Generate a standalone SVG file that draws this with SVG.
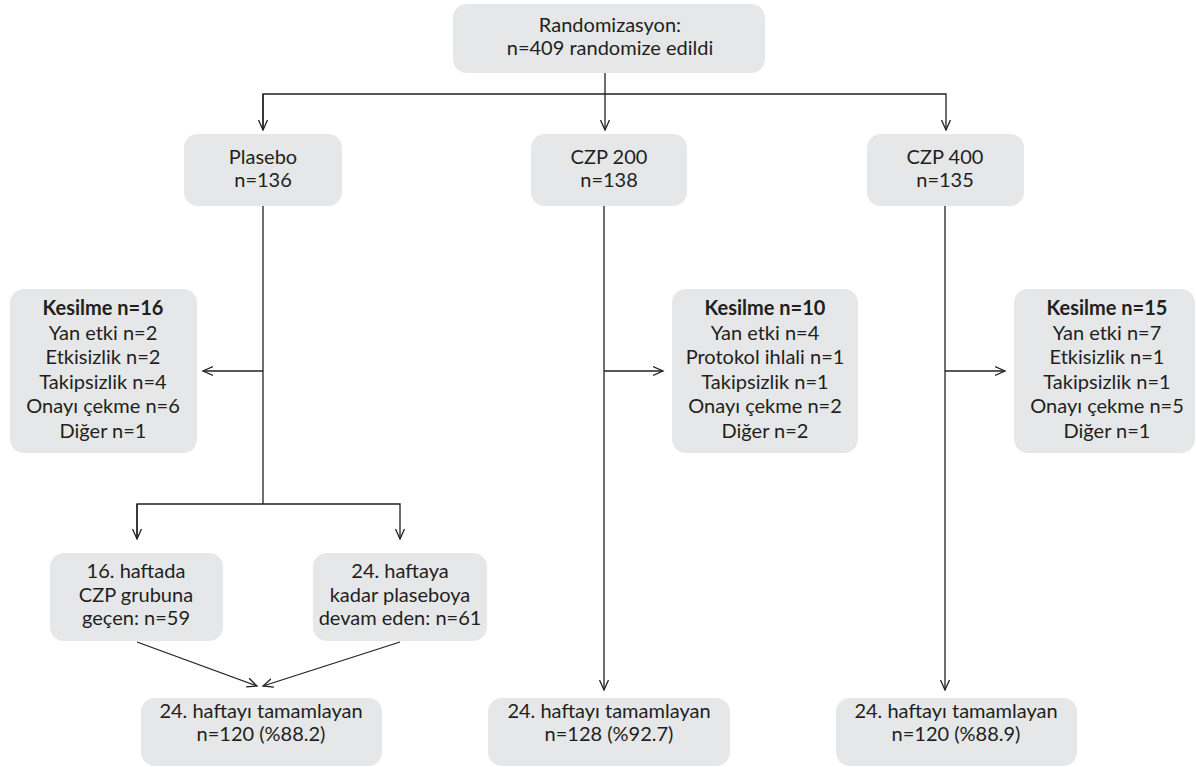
<svg xmlns="http://www.w3.org/2000/svg" width="1196" height="767" viewBox="0 0 1196 767">
<style>
.box{fill:#e6e7e8;}
text{font-family:Lato,"Open Sans","Liberation Sans",sans-serif;font-size:20px;fill:#231f20;text-anchor:middle;}
.b{font-weight:700;}
.c{stroke:#231f20;stroke-width:1.3;fill:none;}
</style>
<defs>
<marker id="ah" markerUnits="userSpaceOnUse" markerWidth="12" markerHeight="12" viewBox="-10 -6 12 12" refX="0" refY="0" orient="auto">
<path d="M-10,-4.5 L0,0 L-10,4.5" fill="none" stroke="#231f20" stroke-width="1.3"/>
</marker>
</defs>
<rect width="1196" height="767" fill="#ffffff"/>
<g id="connectors">
<path class="c" d="M605,73 V130" marker-end="url(#ah)"/>
<path class="c" d="M263,130 V94 H946 V130" marker-end="url(#ah)"/>
<path class="c" d="M263,94 V130" marker-end="url(#ah)"/>
<path class="c" d="M263,206 V504"/>
<path class="c" d="M263,371 H203" marker-end="url(#ah)"/>
<path class="c" d="M137,539 V504 H400 V539" marker-end="url(#ah)"/>
<path class="c" d="M137,504 V539" marker-end="url(#ah)"/>
<path class="c" d="M137,642 L257,686" marker-end="url(#ah)"/>
<path class="c" d="M400,642 L263,686" marker-end="url(#ah)"/>
<path class="c" d="M604,206 V690" marker-end="url(#ah)"/>
<path class="c" d="M604,371 H663" marker-end="url(#ah)"/>
<path class="c" d="M945,206 V690" marker-end="url(#ah)"/>
<path class="c" d="M945,371 H1005" marker-end="url(#ah)"/>
</g>
<g id="randomizasyon">
<rect class="box" x="453" y="4" width="312" height="69" rx="14"/>
<text x="610" y="32">Randomizasyon:</text>
<text x="610" y="55">n=409 randomize edildi</text>
</g>
<g id="plasebo">
<rect class="box" x="184" y="134" width="158" height="72" rx="14"/>
<text x="263" y="164">Plasebo</text>
<text x="263" y="187">n=136</text>
</g>
<g id="czp200">
<rect class="box" x="531" y="134" width="156" height="72" rx="14"/>
<text x="609" y="164">CZP 200</text>
<text x="609" y="187">n=138</text>
</g>
<g id="czp400">
<rect class="box" x="867" y="134" width="157" height="72" rx="14"/>
<text x="945" y="164">CZP 400</text>
<text x="945" y="187">n=135</text>
</g>
<g id="kesilme-plasebo">
<rect class="box" x="10" y="289" width="187" height="164" rx="14"/>
<text class="b" x="103" y="315">Kesilme n=16</text>
<text x="103" y="339.5">Yan etki n=2</text>
<text x="103" y="364">Etkisizlik n=2</text>
<text x="103" y="388.5">Takipsizlik n=4</text>
<text x="103" y="413">Onayı çekme n=6</text>
<text x="103" y="437.5">Diğer n=1</text>
</g>
<g id="kesilme-czp200">
<rect class="box" x="672" y="289" width="186" height="164" rx="14"/>
<text class="b" x="765" y="315">Kesilme n=10</text>
<text x="765" y="339.5">Yan etki n=4</text>
<text x="765" y="364">Protokol ihlali n=1</text>
<text x="765" y="388.5">Takipsizlik n=1</text>
<text x="765" y="413">Onayı çekme n=2</text>
<text x="765" y="437.5">Diğer n=2</text>
</g>
<g id="kesilme-czp400">
<rect class="box" x="1014" y="289" width="181" height="164" rx="14"/>
<text class="b" x="1107" y="315">Kesilme n=15</text>
<text x="1107" y="339.5">Yan etki n=7</text>
<text x="1107" y="364">Etkisizlik n=1</text>
<text x="1107" y="388.5">Takipsizlik n=1</text>
<text x="1107" y="413">Onayı çekme n=5</text>
<text x="1107" y="437.5">Diğer n=1</text>
</g>
<g id="gecen">
<rect class="box" x="50" y="553" width="173" height="88" rx="14"/>
<text x="136" y="578">16. haftada</text>
<text x="136" y="601.5">CZP grubuna</text>
<text x="136" y="625">geçen: n=59</text>
</g>
<g id="devam">
<rect class="box" x="313" y="553" width="174" height="88" rx="14"/>
<text x="400" y="578">24. haftaya</text>
<text x="400" y="601.5">kadar plaseboya</text>
<text x="400" y="625">devam eden: n=61</text>
</g>
<g id="tamam-plasebo">
<rect class="box" x="141" y="698" width="241" height="68" rx="14"/>
<text x="261" y="718">24. haftayı tamamlayan</text>
<text x="261" y="741">n=120 (%88.2)</text>
</g>
<g id="tamam-czp200">
<rect class="box" x="488" y="698" width="242" height="68" rx="14"/>
<text x="609" y="718">24. haftayı tamamlayan</text>
<text x="609" y="741">n=128 (%92.7)</text>
</g>
<g id="tamam-czp400">
<rect class="box" x="836" y="698" width="241" height="68" rx="14"/>
<text x="956" y="718">24. haftayı tamamlayan</text>
<text x="956" y="741">n=120 (%88.9)</text>
</g>
</svg>
